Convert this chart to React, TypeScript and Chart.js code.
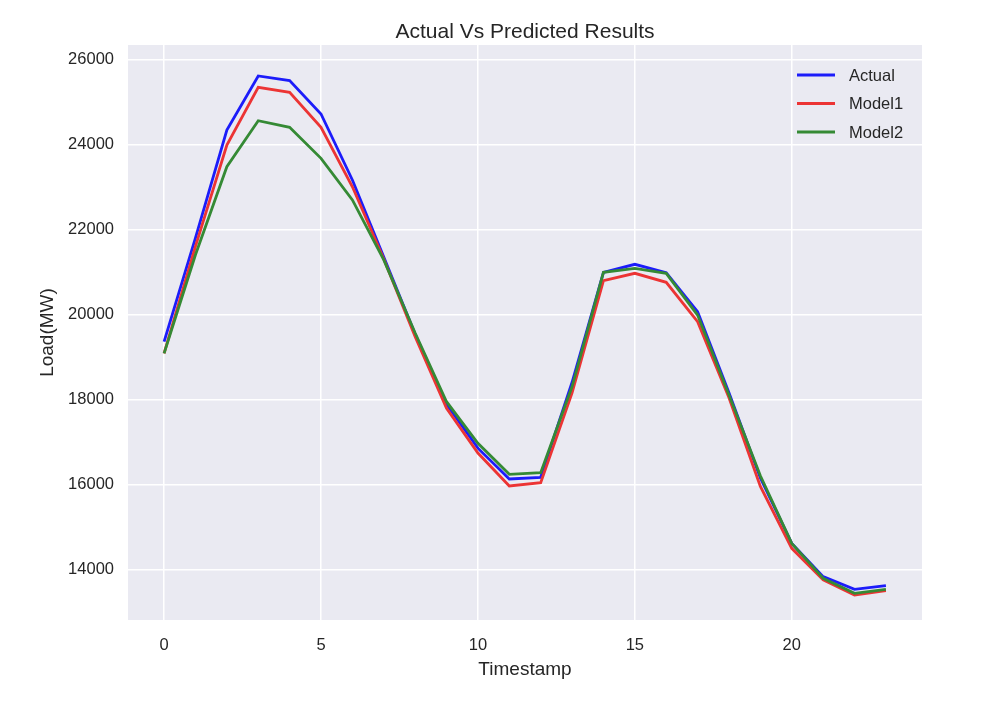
import React, { useEffect, useRef } from 'react';
import { Chart, registerables } from 'chart.js';

Chart.register(...registerables);

const timestamps = [0, 1, 2, 3, 4, 5, 6, 7, 8, 9, 10, 11, 12, 13, 14, 15, 16, 17, 18, 19, 20, 21, 22, 23];
const actual = [19355, 21800, 24336, 25607, 25497, 24713, 23160, 21350, 19530, 17880, 16850, 16125, 16165, 18400, 20988, 21176, 20979, 20060, 18155, 16150, 14610, 13827, 13529, 13614];
const model1 = [19082, 21600, 23983, 25341, 25223, 24400, 23000, 21300, 19470, 17788, 16735, 15960, 16040, 18150, 20790, 20964, 20753, 19826, 18038, 15950, 14493, 13750, 13395, 13496];
const model2 = [19082, 21400, 23473, 24555, 24400, 23670, 22690, 21280, 19560, 17943, 16964, 16235, 16274, 18300, 20988, 21082, 20964, 19982, 18101, 16200, 14610, 13788, 13435, 13529];
const seriesNames = ['Actual', 'Model1', 'Model2'];
const xTicks = [0, 5, 10, 15, 20];
const yTicks = [14000, 16000, 18000, 20000, 22000, 24000, 26000];
const titleText = 'Actual Vs Predicted Results';
const xTitle = 'Timestamp';
const yTitle = 'Load(MW)';

const COLORS = ['#1c1cfa', '#ec3434', '#358a35'];
const TEXT = '#262626';
const FONT = "'Liberation Sans', Arial, sans-serif";

export default function App() {
  const ref = useRef<HTMLCanvasElement | null>(null);

  useEffect(() => {
    if (!ref.current) return;
    const series = [actual, model1, model2];
    const bgPlugin = {
      id: 'bg',
      beforeDraw(chart: any) {
        const { ctx, chartArea } = chart;
        ctx.save();
        ctx.fillStyle = '#ffffff';
        ctx.fillRect(0, 0, chart.width, chart.height);
        ctx.fillStyle = '#EAEAF2';
        ctx.fillRect(chartArea.left, chartArea.top, chartArea.right - chartArea.left, chartArea.bottom - chartArea.top);
        ctx.restore();
      },
      afterDraw(chart: any) {
        const { ctx, chartArea } = chart;
        ctx.save();
        ctx.fillStyle = TEXT;
        ctx.textAlign = 'center';
        ctx.textBaseline = 'middle';
        ctx.font = `21px ${FONT}`;
        ctx.fillText(titleText, (chartArea.left + chartArea.right) / 2, 32);
        ctx.font = `19px ${FONT}`;
        ctx.fillText(xTitle, (chartArea.left + chartArea.right) / 2, 670);
        ctx.save();
        ctx.translate(48, (chartArea.top + chartArea.bottom) / 2);
        ctx.rotate(-Math.PI / 2);
        ctx.fillText(yTitle, 0, 0);
        ctx.restore();
        // legend
        ctx.font = `16.5px ${FONT}`;
        ctx.textAlign = 'left';
        seriesNames.forEach((name, i) => {
          const y = 75 + i * 28.5;
          ctx.strokeStyle = COLORS[i];
          ctx.lineWidth = 2.8;
          ctx.beginPath();
          ctx.moveTo(797, y);
          ctx.lineTo(835, y);
          ctx.stroke();
          ctx.fillStyle = TEXT;
          ctx.fillText(name, 849, y + 1);
        });
        ctx.restore();
      },
    };

    const chart = new Chart(ref.current, {
      type: 'line',
      data: {
        datasets: seriesNames.map((name, i) => ({
          label: name,
          data: timestamps.map((t, j) => ({ x: t, y: series[i][j] })),
          borderColor: COLORS[i],
          backgroundColor: COLORS[i],
          borderWidth: 2.8,
          pointRadius: 0,
          tension: 0,
          fill: false,
          order: 2 - i,
        })),
      },
      options: {
        animation: false,
        responsive: true,
        maintainAspectRatio: false,
        layout: { padding: { left: 0, right: 80, top: 45, bottom: 0 } },
        plugins: {
          legend: { display: false },
          title: { display: false },
          tooltip: { enabled: false },
        },
        scales: {
          x: {
            type: 'linear',
            min: -1.15,
            max: 24.15,
            afterBuildTicks: (s: any) => {
              s.ticks = xTicks.map((v) => ({ value: v }));
            },
            afterFit: (s: any) => {
              s.height = 84;
            },
            grid: { color: '#ffffff', lineWidth: 1.5, drawTicks: false },
            border: { display: false },
            ticks: { padding: 16, color: TEXT, font: { family: FONT, size: 16.5 }, maxRotation: 0 },
          },
          y: {
            type: 'linear',
            min: 12807,
            max: 26336,
            afterBuildTicks: (s: any) => {
              s.ticks = yTicks.map((v) => ({ value: v }));
            },
            afterFit: (s: any) => {
              s.width = 128;
            },
            grid: { color: '#ffffff', lineWidth: 1.5, drawTicks: false },
            border: { display: false },
            ticks: { padding: 14, color: TEXT, font: { family: FONT, size: 16.5 }, callback: (v: any) => String(v) },
          },
        },
      },
      plugins: [bgPlugin],
    });
    return () => chart.destroy();
  }, []);

  return (
    <div style={{ position: 'fixed', left: 0, top: 0, width: 1002, height: 704, background: '#fff' }}>
      <canvas ref={ref} />
    </div>
  );
}
